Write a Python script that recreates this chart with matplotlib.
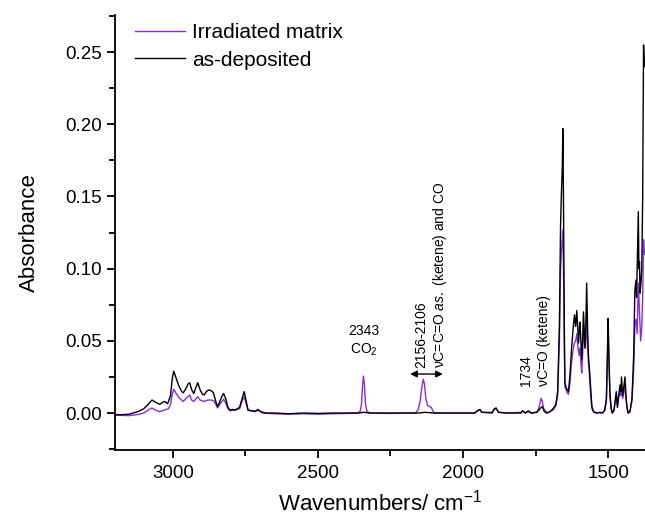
import matplotlib.pyplot as plt

plt.rcParams['font.family'] = ['Liberation Sans', 'DejaVu Sans']
plt.rcParams['mathtext.fontset'] = 'custom'
plt.rcParams['mathtext.rm'] = 'Liberation Sans'
plt.rcParams['mathtext.it'] = 'Liberation Sans:italic'

# as-deposited spectrum (wavenumber, absorbance)
dep_wn = [3200, 3180, 3150, 3120, 3100, 3085, 3072, 3060, 3045, 3035, 3028, 3018, 3008, 3002,
          2997, 2990, 2980, 2970, 2964, 2955, 2948, 2942, 2935, 2928, 2920, 2914, 2906, 2898,
          2892, 2884, 2876, 2868, 2860, 2852, 2846, 2838, 2830, 2825, 2818, 2810, 2803, 2795,
          2785, 2770, 2760, 2754, 2748, 2741, 2730, 2715, 2707, 2698, 2680, 2650, 2600, 2550,
          2500, 2450, 2400, 2360, 2343, 2320, 2250, 2200, 2150, 2133, 2100, 2050, 2000, 1960,
          1948, 1942, 1935, 1900, 1892, 1886, 1878, 1850, 1800, 1795, 1785, 1775, 1765, 1745,
          1735, 1727, 1720, 1712, 1700, 1690, 1680, 1674, 1668, 1664, 1661, 1658, 1656, 1654,
          1651, 1649, 1645, 1641, 1637, 1632, 1626, 1620, 1616, 1612, 1608, 1604, 1602, 1599,
          1597, 1594, 1591, 1588, 1585, 1582, 1580, 1577, 1574, 1571, 1568, 1565, 1561, 1556,
          1550, 1540, 1530, 1520, 1512, 1506, 1502, 1500, 1498, 1494, 1490, 1486, 1480, 1475,
          1472, 1468, 1464, 1459, 1456, 1454, 1450, 1446, 1442, 1438, 1434, 1431, 1425, 1418,
          1412, 1408, 1404, 1402, 1399, 1396, 1394, 1392, 1390, 1387, 1384, 1381, 1378, 1375]
dep_abs = [-0.001, -0.0012, -0.0008, 0.001, 0.003, 0.006, 0.009, 0.0075, 0.006, 0.0075, 0.008,
           0.0065, 0.012, 0.024, 0.029, 0.025, 0.019, 0.015, 0.014, 0.017, 0.020, 0.021, 0.016,
           0.0135, 0.018, 0.021, 0.016, 0.013, 0.0125, 0.015, 0.016, 0.0155, 0.014, 0.008, 0.0045,
           0.008, 0.012, 0.0135, 0.010, 0.004, 0.002, 0.0025, 0.002, 0.004, 0.011, 0.0148, 0.009,
           0.002, 0.0015, 0.001, 0.0025, 0.001, 0.0, 0.0, -0.0005, 0.0, -0.0003, 0.0, 0.0, 0.0,
           0.0005, 0.0, 0.0, 0.0, 0.0, 0.0005, 0.0, 0.0, 0.0, 0.0, 0.002, 0.0025, 0.0005, 0.0,
           0.003, 0.0035, 0.0005, 0.0, 0.0, 0.0015, 0.0, 0.0015, 0.0, 0.0005, 0.003, 0.0045, 0.001,
           0.0, 0.001, 0.003, 0.006, 0.015, 0.06, 0.13, 0.152, 0.17, 0.197, 0.15, 0.06, 0.021,
           0.018, 0.016, 0.0148, 0.025, 0.045, 0.06, 0.068, 0.06, 0.071, 0.055, 0.0485, 0.058,
           0.063, 0.05, 0.0367, 0.05, 0.07, 0.055, 0.045, 0.06, 0.090, 0.06, 0.04, 0.032, 0.02,
           0.0044, 0.001, 0.0, 0.0005, 0.0, 0.002, 0.01, 0.045, 0.0656, 0.045, 0.015, 0.004, 0.0,
           0.002, 0.01, 0.0148, 0.004, 0.012, 0.0194, 0.015, 0.025, 0.012, 0.018, 0.025, 0.01,
           0.003, 0.0, 0.001, 0.01, 0.04, 0.085, 0.092, 0.08, 0.11, 0.1395, 0.10, 0.105, 0.083,
           0.09, 0.10, 0.15, 0.255, 0.24]

# irradiated matrix spectrum
irr_wn = [3200, 3150, 3120, 3100, 3085, 3072, 3060, 3045, 3030, 3015, 3008, 3002, 2997, 2990,
          2980, 2970, 2964, 2955, 2942, 2935, 2928, 2920, 2914, 2906, 2892, 2880, 2868, 2860,
          2852, 2846, 2838, 2825, 2818, 2810, 2803, 2790, 2770, 2760, 2754, 2748, 2741, 2720,
          2707, 2690, 2650, 2600, 2550, 2500, 2450, 2400, 2365, 2355, 2350, 2346, 2343, 2340,
          2336, 2331, 2320, 2250, 2200, 2165, 2155, 2148, 2142, 2137, 2133, 2128, 2122, 2116,
          2110, 2105, 2100, 2050, 2000, 1960, 1948, 1942, 1935, 1900, 1892, 1886, 1878, 1850,
          1800, 1795, 1785, 1775, 1765, 1745, 1738, 1731, 1727, 1722, 1716, 1710, 1700, 1690,
          1680, 1674, 1668, 1664, 1660, 1656, 1654, 1651, 1649, 1645, 1641, 1637, 1632, 1626,
          1620, 1616, 1612, 1608, 1604, 1600, 1597, 1594, 1591, 1588, 1585, 1582, 1578, 1574,
          1571, 1568, 1565, 1561, 1556, 1550, 1540, 1520, 1512, 1506, 1502, 1500, 1498, 1494,
          1490, 1486, 1480, 1475, 1472, 1468, 1464, 1459, 1456, 1454, 1450, 1446, 1442, 1438,
          1434, 1431, 1425, 1418, 1412, 1408, 1404, 1400, 1396, 1392, 1388, 1384, 1381, 1378, 1375]
irr_abs = [-0.0015, -0.0018, -0.001, 0.0, 0.002, 0.0035, 0.002, 0.001, 0.002, 0.003, 0.006,
           0.013, 0.0164, 0.014, 0.011, 0.009, 0.008, 0.010, 0.0125, 0.009, 0.008, 0.010, 0.0113,
           0.009, 0.008, 0.009, 0.009, 0.0085, 0.006, 0.0035, 0.006, 0.0095, 0.007, 0.003, 0.0015,
           0.002, 0.003, 0.009, 0.011, 0.007, 0.002, 0.0015, 0.002, 0.0, -0.0005, -0.0008, -0.0005,
           -0.0008, -0.0005, -0.0003, 0.0, 0.001, 0.006, 0.02, 0.0256, 0.02, 0.006, 0.001, 0.0,
           -0.0003, 0.0, 0.0, 0.002, 0.008, 0.018, 0.0234, 0.02, 0.01, 0.005, 0.0045, 0.004, 0.002,
           0.0, 0.0, 0.0, 0.0, 0.0015, 0.002, 0.0005, 0.0005, 0.0025, 0.003, 0.0005, 0.0, 0.0005,
           0.0015, 0.0, 0.001, 0.0, 0.0008, 0.004, 0.0102, 0.008, 0.003, 0.0015, 0.0, 0.001, 0.002,
           0.005, 0.012, 0.05, 0.10, 0.115, 0.127, 0.10, 0.045, 0.018, 0.016, 0.014, 0.013, 0.02,
           0.035, 0.045, 0.0485, 0.05, 0.055, 0.045, 0.04, 0.045, 0.035, 0.0277, 0.04, 0.06, 0.05,
           0.045, 0.064, 0.05, 0.035, 0.028, 0.015, 0.003, 0.0005, 0.0, 0.0, 0.0015, 0.008, 0.04,
           0.06, 0.04, 0.012, 0.003, 0.0, 0.0015, 0.008, 0.012, 0.004, 0.01, 0.015, 0.012, 0.02,
           0.01, 0.014, 0.02, 0.008, 0.002, 0.0, 0.0008, 0.008, 0.03, 0.06, 0.065, 0.055, 0.09,
           0.07, 0.05, 0.06, 0.08, 0.12, 0.11]

purple = '#8A2BE2'

fig = plt.figure(figsize=(6.45, 5.19), dpi=100)
ax = fig.add_axes([0.178, 0.133, 0.822, 0.838])

ax.plot(irr_wn, irr_abs, color=purple, lw=1.0, label='Irradiated matrix')
ax.plot(dep_wn, dep_abs, color='black', lw=1.0, label='as-deposited')

ax.set_xlim(3200, 1373)
ax.set_ylim(-0.0256, 0.2757)
ax.set_xticks([3000, 2500, 2000, 1500])
ax.set_xticks([2750, 2250, 1750], minor=True)
ax.set_yticks([0.0, 0.05, 0.10, 0.15, 0.20, 0.25])
ax.set_yticklabels(['0.00', '0.05', '0.10', '0.15', '0.20', '0.25'])
ax.set_yticks([-0.025, 0.025, 0.075, 0.125, 0.175, 0.225, 0.275], minor=True)

for s in ['top', 'right']:
    ax.spines[s].set_visible(False)
for s in ['left', 'bottom']:
    ax.spines[s].set_linewidth(1.3)
ax.tick_params(which='major', direction='out', length=6, width=1.3, labelsize=13.5)
ax.tick_params(axis='x', which='major', pad=5)
ax.tick_params(which='minor', direction='out', length=4, width=1.3)

ax.set_xlabel('Wavenumbers/ cm$^{-1}$', fontsize=16, labelpad=5)
ax.set_ylabel('Absorbance', fontsize=16, labelpad=18)

ax.legend(loc='upper left', bbox_to_anchor=(0.022, 1.0), borderaxespad=0, frameon=False,
          fontsize=15, handlelength=2.4, handletextpad=0.35, labelspacing=0.4)

# annotations
ax.text(2343, 0.038, '2343\nCO$_2$', ha='center', va='bottom', fontsize=10, linespacing=1.3)
ax.text(2143, 0.031, '2156-2106', rotation=90, ha='center', va='bottom', fontsize=10)
ax.text(2080, 0.031, r'νC=C=O $\it{as.}$ (ketene) and CO', rotation=90, ha='center',
        va='bottom', fontsize=10)
ax.annotate('', xy=(2192, 0.027), xytext=(2060, 0.027),
            arrowprops=dict(arrowstyle='<|-|>', color='black', lw=1.0, mutation_scale=10))
ax.text(1782, 0.019, '1734', rotation=90, ha='center', va='bottom', fontsize=10)
ax.text(1722, 0.019, 'νC=O (ketene)', rotation=90, ha='center', va='bottom', fontsize=10)

fig.savefig('out.png', dpi=100)
